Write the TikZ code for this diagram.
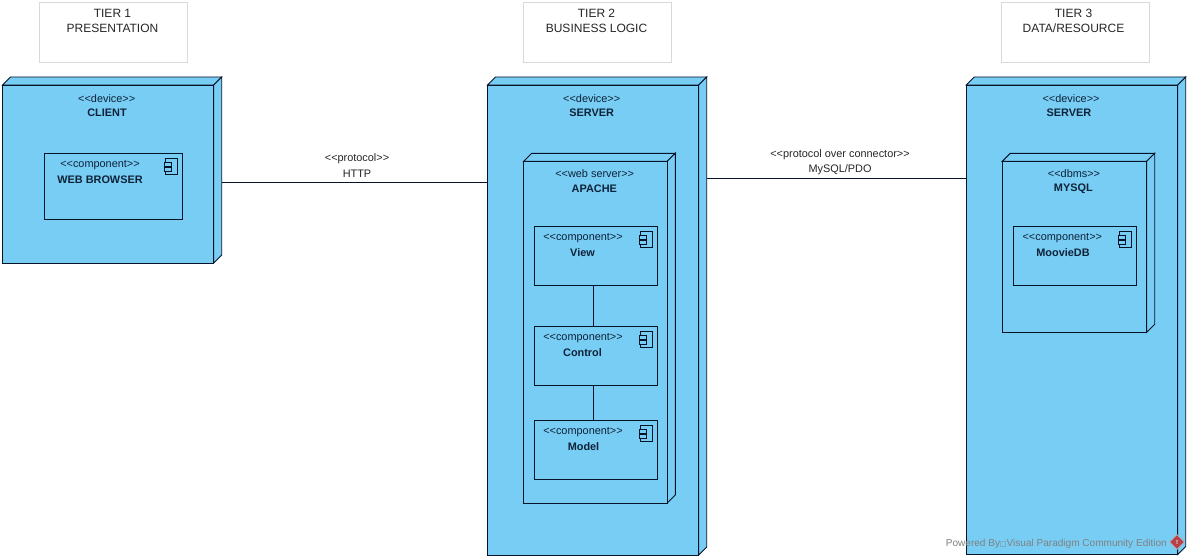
\documentclass[tikz,border=0pt]{standalone}
\usepackage{fontspec}
\setmainfont{Liberation Sans}
\newfontfamily\symfont{DejaVu Sans}
\usetikzlibrary{shapes.geometric}
\definecolor{nodefill}{HTML}{78CDF5}
\definecolor{inkline}{HTML}{071428}
\definecolor{inktext}{HTML}{0E2238}
\definecolor{markred}{HTML}{B8404A}
\newcommand{\stereo}[1]{<\kern0pt<#1>\kern0pt>}
\tikzset{
  boxbase/.style={inner sep=0pt,outer sep=0pt,draw=inkline,line width=0.9pt,fill=nodefill,line join=miter},
  link/.style={draw=inkline,line width=0.9pt},
  stereotxt/.style={inner sep=0pt,outer sep=0pt,yshift=-1pt,font=\fontsize{10.9}{13}\selectfont,text=inktext,anchor=center},
  nametxt/.style={inner sep=0pt,outer sep=0pt,yshift=-1pt,font=\fontsize{10.9}{13}\selectfont\bfseries,text=inktext,anchor=center},
  tiertxt/.style={inner sep=0pt,outer sep=0pt,font=\fontsize{12}{14}\selectfont,text=black!85,anchor=center},
  linktxt/.style={inner sep=0pt,outer sep=0pt,yshift=-1pt,font=\fontsize{10.9}{13}\selectfont,text=black!85,anchor=center},
  tierbox/.style={inner sep=0pt,outer sep=0pt,draw=black!15,line width=0.8pt,fill=white},
}
% front rectangle named #1, with top and side faces of depth 8
\newcommand{\cubebox}[5]{%
  \pgfmathsetmacro{\cx}{(#2+#4)/2}\pgfmathsetmacro{\cy}{(#3+#5)/2}%
  \pgfmathsetmacro{\cw}{#4-#2}\pgfmathsetmacro{\ch}{#5-#3}%
  \pgfmathsetmacro{\bx}{#4+8}\pgfmathsetmacro{\by}{#3-8}\pgfmathsetmacro{\lx}{#2+8}\pgfmathsetmacro{\dy}{#5-8}%
  \draw[boxbase] (#2,#3) -- (\lx,\by) -- (\bx,\by) -- (#4,#3) -- cycle;
  \draw[boxbase] (#4,#3) -- (\bx,\by) -- (\bx,\dy) -- (#4,#5) -- cycle;
  \node[boxbase,minimum width=\cw pt,minimum height=\ch pt] (#1) at (\cx,\cy) {};
  \coordinate (#1-r) at (\bx,\cy);
}
% component rectangle named #1 with its icon
\newcommand{\compbox}[5]{%
  \pgfmathsetmacro{\cx}{(#2+#4)/2}\pgfmathsetmacro{\cy}{(#3+#5)/2}%
  \pgfmathsetmacro{\cw}{#4-#2}\pgfmathsetmacro{\ch}{#5-#3}%
  \node[boxbase,minimum width=\cw pt,minimum height=\ch pt] (#1) at (\cx,\cy) {};
  \begin{scope}[shift={(#4,#3)}]
    \draw[boxbase] (-17,5) rectangle (-5,21.4);
    \draw[boxbase] (-18.7,9.4) rectangle (-11.7,13.4);
    \draw[boxbase] (-18.7,14.4) rectangle (-11.7,18.4);
  \end{scope}
}
\newcommand{\tierbx}[5]{%
  \pgfmathsetmacro{\cx}{(#2+#4)/2}\pgfmathsetmacro{\cy}{(#3+#5)/2}%
  \pgfmathsetmacro{\cw}{#4-#2}\pgfmathsetmacro{\ch}{#5-#3}%
  \node[tierbox,minimum width=\cw pt,minimum height=\ch pt] (#1) at (\cx,\cy) {};
}
\begin{document}
\begin{tikzpicture}[x=1pt,y=-1pt]
\useasboundingbox[fill=white] (0,0) rectangle (1190,559);
% tiers
\tierbx{t1}{39.5}{2.3}{187.7}{62.3}
\tierbx{t2}{523.3}{2.3}{671.5}{62.3}
\tierbx{t3}{1001.5}{2.3}{1149.5}{62.3}
\node[tiertxt] (t1a) at (112.5,13) {TIER 1};
\node[tiertxt] (t1b) at (112.5,28.5) {PRESENTATION};
\node[tiertxt] (t2a) at (596.5,13) {TIER 2};
\node[tiertxt] (t2b) at (596.5,28.5) {BUSINESS LOGIC};
\node[tiertxt] (t3a) at (1073.5,13) {TIER 3};
\node[tiertxt] (t3b) at (1073.5,28.5) {DATA/RESOURCE};
% client
\cubebox{client}{2.5}{85}{213.7}{263}
\node[stereotxt] (clients) at (106.7,97.3) {\stereo{device}};
\node[nametxt] (clientn) at (107,112) {CLIENT};
\compbox{browser}{44.3}{153.3}{182.7}{219.3}
\node[stereotxt] (browsers) at (100,164) {\stereo{component}};
\node[nametxt] (browsern) at (100,179) {WEB BROWSER};
% server 2
\cubebox{serverA}{487.5}{85}{698.7}{555}
\node[stereotxt] (serverAs) at (591.7,97.3) {\stereo{device}};
\node[nametxt] (serverAn) at (591.7,112) {SERVER};
\cubebox{apache}{523.7}{161.3}{667.3}{503}
\node[stereotxt] (apaches) at (594.7,173) {\stereo{web server}};
\node[nametxt] (apachen) at (594.3,188) {APACHE};
\compbox{view}{534.3}{226.3}{657.7}{285.5}
\node[stereotxt] (views) at (583,237) {\stereo{component}};
\node[nametxt] (viewn) at (582.5,252) {View};
\compbox{control}{534.3}{326.3}{657.7}{385.5}
\node[stereotxt] (controls) at (583,337) {\stereo{component}};
\node[nametxt] (controln) at (582.5,352) {Control};
\compbox{model}{534.3}{420.5}{657.7}{479.5}
\node[stereotxt] (models) at (583,431) {\stereo{component}};
\node[nametxt] (modeln) at (583.5,446) {Model};
\draw[link] ([xshift=-2.7pt]view.south) -- ([xshift=-2.7pt]control.north);
\draw[link] ([xshift=-2.7pt]control.south) -- ([xshift=-2.7pt]model.north);
% server 3
\cubebox{serverB}{966.3}{85}{1177.7}{554.5}
\node[stereotxt] (serverBs) at (1071,97.3) {\stereo{device}};
\node[nametxt] (serverBn) at (1069,112) {SERVER};
\cubebox{mysql}{1002.3}{161.3}{1146.7}{332.3}
\node[stereotxt] (mysqls) at (1074,173) {\stereo{dbms}};
\node[nametxt] (mysqln) at (1073.3,188) {MYSQL};
\compbox{moovie}{1013.3}{226.3}{1136.7}{285.3}
\node[stereotxt] (moovies) at (1062.3,237) {\stereo{component}};
\node[nametxt] (mooviEn) at (1063,252) {MoovieDB};
% connectors
\coordinate (httpA) at ([yshift=-8pt]client-r);
\draw[link] (httpA) -- (httpA -| serverA.west);
\coordinate (pdoA) at ([yshift=141.5pt]serverA-r);
\draw[link] (pdoA) -- (pdoA -| serverB.west);
\node[linktxt] (https) at (357,157.5) {\stereo{protocol}};
\node[linktxt] (httpn) at (357,172.5) {HTTP};
\node[linktxt] (pdos) at (840,153.5) {\stereo{protocol over connector}};
\node[linktxt] (pdon) at (840,168.5) {MySQL/PDO};
% watermark
\node[inner sep=0pt,anchor=east,font=\fontsize{10.05}{13}\selectfont,text=black!50] (mark) at (1167,543.5) {Powered By{\symfont\fontsize{7}{8}\selectfont □}Visual Paradigm Community Edition};
\node[diamond,inner sep=0pt,minimum width=15pt,minimum height=15pt,fill=markred,draw=black!30,line width=0.6pt,text=white,font=\fontsize{6}{6}\selectfont\bfseries] (markicon) at (1177,542) {!};
\end{tikzpicture}
\end{document}
